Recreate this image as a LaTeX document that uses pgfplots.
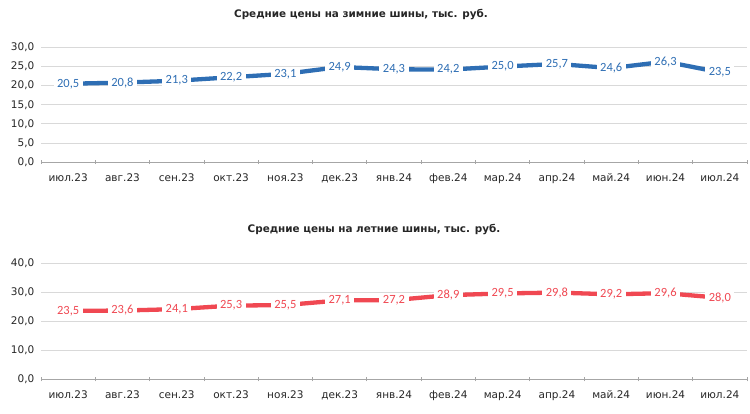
\documentclass[border=0pt]{standalone}
\usepackage{pgfplots}
\pgfplotsset{compat=1.18}
\usepackage{fontspec}
\setmainfont{DejaVu Sans}
\newfontfamily\lblfont{Carlito}
\definecolor{winter}{RGB}{46,110,180}
\definecolor{summer}{RGB}{240,72,82}
\definecolor{gridc}{RGB}{217,217,217}
\definecolor{axc}{RGB}{166,166,166}
\pgfplotstableread{
x w s
0 20.5 23.5
1 20.8 23.6
2 21.3 24.1
3 22.2 25.3
4 23.1 25.5
5 24.9 27.1
6 24.3 27.2
7 24.2 28.9
8 25.0 29.5
9 25.7 29.8
10 24.6 29.2
11 26.3 29.6
12 23.5 28.0
}\prices
\pgfplotsset{
 myax/.style={
  scale only axis, width=706pt,
  anchor=south west,
  xmin=-0.5, xmax=12.5, ymin=0,
  xtick={0,...,12},
  xticklabels={июл.23,авг.23,сен.23,окт.23,ноя.23,дек.23,янв.24,фев.24,мар.24,апр.24,май.24,июн.24,июл.24},
  major x tick style={draw=none},
  minor xtick={-0.5,0.5,...,12.5},
  minor tick length=4.5pt,
  minor x tick style={axc, line width=0.8pt},
  tick align=outside,
  axis x line=bottom, axis y line=left,
  axis line style={-},
  x axis line style={axc, line width=0.8pt},
  y axis line style={draw=none},
  ytick style={draw=none},
  ymajorgrids, major grid style={gridc, line width=0.8pt},
  ticklabel style={font=\fontsize{10.5}{12}\selectfont, text=black!85},
  xticklabel style={yshift=-5.5pt, text height=8pt, text depth=2pt},
  yticklabel style={xshift=-1pt},
  /pgf/number format/.cd, fixed, fixed zerofill, precision=1, use comma, assume math mode=true,
  /pgfplots/.cd,
  nodes near coords,
  nodes near coords align={center},
  every node near coord/.append style={font=\lblfont\fontsize{12.5}{14}\selectfont, fill=white, inner xsep=3.5pt, inner ysep=1.5pt, anchor=center},
 }
}
\begin{document}
\begin{tikzpicture}
\useasboundingbox (0pt,0pt) rectangle (750pt,413pt);
\node[font=\bfseries\fontsize{10.4}{12}\selectfont, text=black!85] at (361pt,398pt) {Средние цены на зимние шины, тыс. руб.};
\node[font=\bfseries\fontsize{10.4}{12}\selectfont, text=black!85] at (374pt,183pt) {Средние цены на летние шины, тыс. руб.};
\begin{axis}[myax, at={(41pt,251pt)}, height=114.5pt, ymax=30, ytick={0,5,...,30}]
\addplot[winter, line width=4.3pt, no markers, every node near coord/.append style={text=winter}] table[x=x,y=w] {\prices};
\end{axis}
\begin{axis}[myax, at={(41pt,34pt)}, height=116pt, ymax=40, ytick={0,10,...,40}]
\addplot[summer, line width=4.3pt, no markers, every node near coord/.append style={text=summer}] table[x=x,y=s] {\prices};
\end{axis}
\end{tikzpicture}
\end{document}
